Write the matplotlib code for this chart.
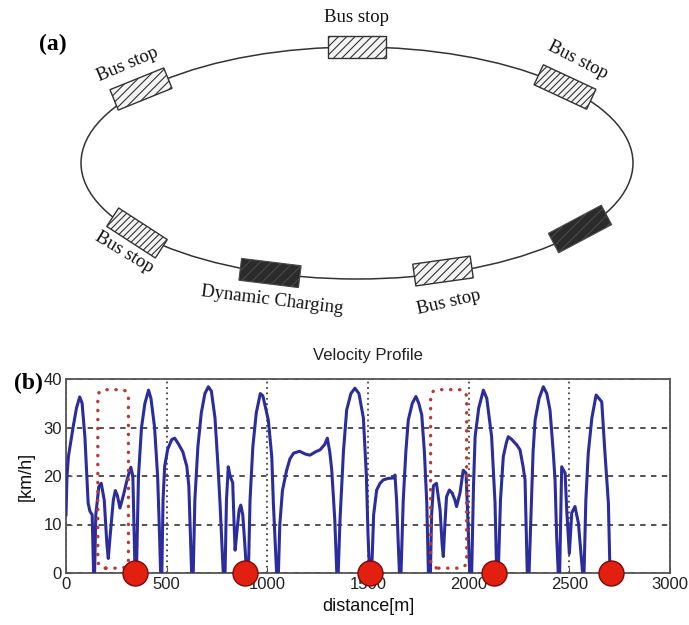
import matplotlib
matplotlib.use("Agg")
import matplotlib.pyplot as plt
from matplotlib.patches import Ellipse, Rectangle, FancyBboxPatch

# velocity profile (distance in m, speed in km/h)
dist = [0, 5, 12, 35, 52, 68, 80, 94, 110, 119, 130, 137,
        142, 148, 163, 175, 190, 203, 210, 220, 235, 245, 255, 268, 285, 305, 322, 332, 343,
        350, 360, 375, 392, 410, 422, 440, 455, 463, 470,
        476, 482, 490, 505, 525, 540, 560, 580, 600, 610, 624,
        632, 640, 655, 672, 690, 707, 722, 740, 755, 765, 781,
        790, 797, 806, 815, 828, 835, 840, 850, 860, 868, 878, 888, 897,
        906, 914, 928, 945, 965, 978, 1005, 1022, 1030, 1046,
        1055, 1062, 1075, 1096, 1112, 1130, 1160, 1190, 1212, 1240, 1262, 1285, 1298,
        1310, 1320, 1335, 1345,
        1352, 1361, 1378, 1394, 1415, 1435, 1455, 1477, 1492, 1500, 1508,
        1518, 1528, 1543, 1560, 1576, 1600, 1626, 1634, 1642, 1656,
        1664, 1675, 1688, 1700, 1720, 1738, 1752, 1767, 1780, 1792, 1800,
        1810, 1816, 1825, 1840, 1858, 1868, 1874, 1882, 1890, 1904, 1918, 1932, 1940,
        1957, 1973, 1987, 1997, 2005,
        2015, 2024, 2032, 2050, 2073, 2090, 2114, 2131, 2139,
        2147, 2158, 2172, 2188, 2197, 2215, 2239, 2255, 2270, 2280, 2291,
        2300, 2312, 2320, 2330, 2350, 2371, 2388, 2404, 2420, 2429, 2437, 2445,
        2452, 2462, 2479, 2487, 2500, 2512, 2528, 2545, 2556, 2566,
        2573, 2582, 2594, 2612, 2633, 2661, 2677, 2694, 2702]
speed = [12, 20, 24, 30, 34, 36.3, 35, 28, 14.4, 12.7, 12, 0,
         0, 12, 17.8, 18.5, 15, 6, 3, 8, 15, 17, 16, 13.4, 16, 19.5, 21.8, 20, 0,
         0, 20, 30, 35, 37.7, 36, 30, 20, 10, 0,
         0, 15, 22, 25.5, 27.5, 27.8, 26.5, 25, 22, 18, 0,
         0, 15, 26, 33, 37, 38.4, 37.5, 32, 22, 14.4, 0,
         0, 15, 21.9, 20, 18.6, 10, 4.7, 9, 13, 14, 12, 6, 0,
         0, 15, 26, 33, 37, 36.5, 31.5, 24, 14.4, 0,
         0, 10, 17, 21.2, 23.5, 24.7, 25.1, 24.5, 24.3, 25.0, 25.4, 26.5, 27.8,
         25, 21.2, 11, 0,
         0, 11, 25, 33.6, 37, 38.1, 37, 32, 20, 8, 0,
         0, 12, 17.1, 18.5, 19.2, 19.5, 19.6, 20.2, 15, 0,
         0, 15, 25, 31.5, 35, 36.4, 35, 32.6, 25, 14.4, 0,
         0, 12, 18, 18.5, 13, 6, 3.4, 10, 15.7, 17.1, 16.5, 15, 13.7,
         16.5, 21.2, 20.6, 10, 0,
         0, 18, 28.1, 34, 37.7, 36, 28.1, 14.4, 0,
         0, 15, 24, 27, 28.1, 27.5, 26.4, 25.4, 22, 19.2, 0,
         0, 15, 25, 31.5, 36, 38.4, 37, 33.6, 25, 19.2, 7.5, 0,
         0, 21.9, 20.6, 13, 4, 12.4, 13.7, 10.3, 5, 0,
         0, 15, 24.7, 32, 36.7, 35.3, 24.7, 14.4, 0]

# dynamic charging positions along the route
charge_dist = [343, 891, 1512, 2126, 2705]

# dotted boxes around the stop-and-go sections (start, end, low, high)
box_start = [158, 1811]
box_end = [310, 1990]
box_low = 1.0
box_high = 37.8

x_ticks = [0, 500, 1000, 1500, 2000, 2500, 3000]
y_ticks = [0, 10, 20, 30, 40]

# diagram (a): label, centre x, centre y, angle, dark?
stop_names = ["Bus stop", "Bus stop", "Bus stop", "", "Bus stop", "Dynamic Charging", "Bus stop"]
stop_x = [357, 141, 565, 580, 443, 270, 137]
stop_y = [47, 89, 87, 229, 271, 273, 233]
stop_ang = [0, 22, -25, 28, 8, -7, -33]
stop_hatch = ["////", "////", "/////", "///", "////", "///", "/////"]
stop_dark = [False, False, False, True, False, True, False]
label_x = [357, 128, 578, 0, 449, 272, 124]
label_y = [17, 64, 60, 0, 302, 300, 252]
label_ang = [0, 23, -27, 0, 13, -7, -31]

plt.rcParams['hatch.linewidth'] = 0.8

fig = plt.figure(figsize=(6.89, 6.25), dpi=100)

# The diagram, drawn in pixel units over the whole figure
ax_a = fig.add_axes([0, 0, 1, 1])
ax_a.set_xlim(0, 689)
ax_a.set_ylim(625, 0)
ax_a.axis("off")

ax_a.add_patch(Ellipse((357, 163), 552, 232, fill=False, ec="#333333", lw=1.1))
for i in range(len(stop_x)):
    w = 60 if stop_dark[i] else 58
    h = 22
    if stop_dark[i]:
        rect = Rectangle((stop_x[i] - w / 2, stop_y[i] - h / 2), w, h,
                         angle=-stop_ang[i], rotation_point="center",
                         fc="#2b2b2b", ec="#4a4a4a", hatch=stop_hatch[i], lw=0.8, zorder=3)
    else:
        rect = Rectangle((stop_x[i] - w / 2, stop_y[i] - h / 2), w, h,
                         angle=-stop_ang[i], rotation_point="center",
                         fc="#f4f4f4", ec="#333333", hatch=stop_hatch[i], lw=1.0, zorder=3)
    ax_a.add_patch(rect)
    if stop_names[i]:
        ax_a.text(label_x[i], label_y[i], stop_names[i], rotation=label_ang[i],
                  ha="center", va="center", family="Liberation Serif",
                  fontsize=13.5, color="#111111", rotation_mode="anchor")

ax_a.text(53, 44, "(a)", family="Liberation Serif", fontsize=17,
          fontweight="bold", ha="center", va="center")
ax_a.text(28, 383, "(b)", family="Liberation Serif", fontsize=17,
          fontweight="bold", ha="center", va="center")

# The velocity profile
ax = fig.add_axes([66 / 689, (625 - 573) / 625, 604 / 689, 194 / 625])
ax.plot(dist, speed, color="#2b2d9c", lw=2.2, zorder=3,
        solid_joinstyle="round")

for s, e in zip(box_start, box_end):
    box = FancyBboxPatch((s, box_low), e - s, box_high - box_low,
                         boxstyle="round,pad=0,rounding_size=40",
                         mutation_aspect=0.0415, fill=False,
                         ec="#b83a30", lw=2.4, ls=(0, (0.1, 2.6)),
                         capstyle="round", zorder=4)
    ax.add_patch(box)

ax.plot(charge_dist, [0] * len(charge_dist), "o", ms=18, mfc="#e3200f",
        mec="#7a0a0a", mew=1.0, clip_on=False, zorder=5)

ax.set_xlim(0, 3000)
ax.set_ylim(0, 40)
ax.set_xticks(x_ticks)
ax.set_yticks(y_ticks)
ax.xaxis.grid(True, ls=(0, (1, 2)), color="#444444", lw=1.3)
ax.yaxis.grid(True, ls=(0, (3, 3)), color="#444444", lw=1.3)
ax.tick_params(direction="in", length=4, color="#555555", labelsize=12,
               labelcolor="#222222", pad=3)
for lab in ax.get_xticklabels() + ax.get_yticklabels():
    lab.set_family("Liberation Sans")
for sp in ax.spines.values():
    sp.set_color("#555555")
    sp.set_linewidth(1.3)

ax.set_title("Velocity Profile", family="Liberation Sans", fontsize=12,
             color="#222222", pad=14)
ax.set_xlabel("distance[m]", family="Liberation Sans", fontsize=13,
              color="#111111", labelpad=4)
ax.set_ylabel("[km/h]", family="Liberation Sans", fontsize=13,
              color="#111111", labelpad=6)

fig.savefig("out.png", dpi=100)
